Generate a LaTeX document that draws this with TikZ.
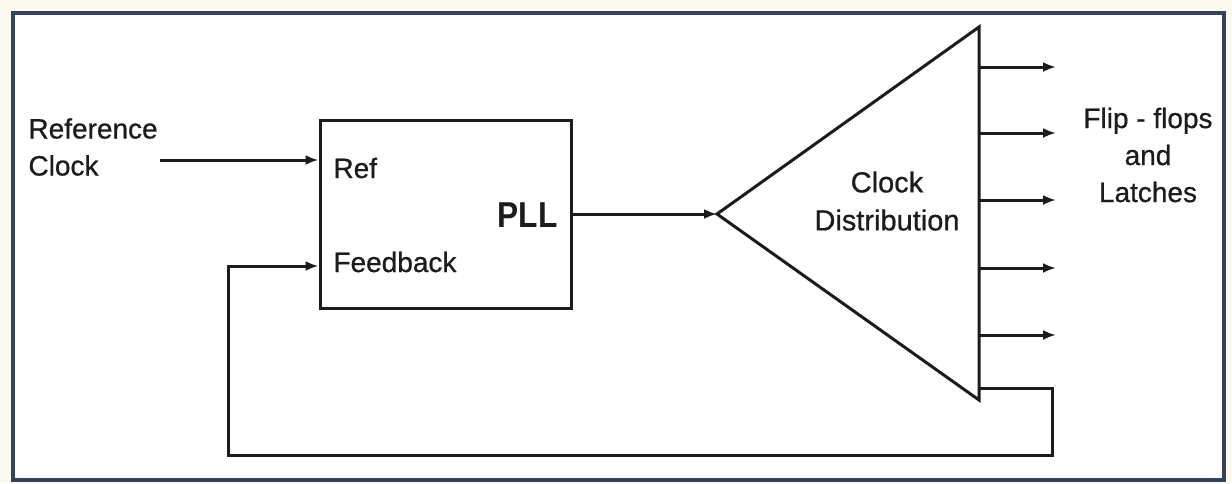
\documentclass[tikz,border=0pt]{standalone}
\usepackage{fontspec}
\setmainfont{Liberation Sans}
\newfontfamily\heavy[FakeBold=0.7]{Liberation Sans}
\usetikzlibrary{arrows.meta}
\definecolor{framecol}{HTML}{34435A}
\definecolor{ink}{HTML}{1C1C1C}
\definecolor{outbg}{HTML}{FBFAF0}
\begin{document}
\begin{tikzpicture}[x=1pt,y=-1pt,line width=3pt,draw=ink,
  arr/.style={-{Latex[length=13pt,width=10pt]}},
  lbl/.style={font=\heavy\fontsize{28}{37}\selectfont,text=ink,inner sep=0pt},
  blk/.style={draw=ink,line width=3pt,minimum width=251pt,minimum height=188pt,inner sep=0pt}]
\useasboundingbox (0,0) rectangle (1232,483);
\fill[outbg] (0,0) rectangle (1232,483);
\filldraw[fill=white,draw=framecol,line width=4pt] (13,13) rectangle (1224,480);

% PLL block
\node[blk] (pll) at (445.5,214) {};
\node[lbl,anchor=base west] (ref) at (332,178) {Ref};
\node[lbl,anchor=base west] (fb) at (332,272) {Feedback};
\node[lbl,anchor=base east,font=\bfseries\fontsize{36}{40}\selectfont] (plltxt) at (559,227) {\scalebox{0.88}[1]{PLL}};

% reference clock input
\node[lbl,align=left,anchor=west] (refclk) at (27,147) {Reference\\Clock};
\coordinate (refstart) at (160,160);
\draw[arr] (refstart) -- (refstart -| pll.west);

% clock distribution triangle
\coordinate (tip) at (717,214);
\coordinate (ttop) at (979,27);
\coordinate (tbot) at (979,400);
\draw[line join=miter] (tip) -- (ttop) -- (tbot) -- cycle;
\node[lbl,align=center,font=\heavy\fontsize{29}{38}\selectfont] (cd) at (887,201) {Clock\\Distribution};
\draw[arr] (pll.east |- tip) -- (tip);

% outputs
\foreach \i/\yy in {1/67,2/133,3/200,4/268,5/335}{
  \coordinate (s\i) at (979,\yy);
  \coordinate (e\i) at (1056,\yy);
  \draw[arr] (s\i) -- (e\i);
}
\node[lbl,align=center] (ff) at (1148,155) {Flip - flops\\and\\Latches};

% feedback loop
\coordinate (fbs) at (979,388);
\coordinate (c1) at (1052,388);
\coordinate (c2) at (1052,455);
\coordinate (c3) at (228,455);
\coordinate (c4) at (228,266);
\draw[arr] (fbs) -- (c1) -- (c2) -- (c3) -- (c4) -- (c4 -| pll.west);
\end{tikzpicture}
\end{document}
